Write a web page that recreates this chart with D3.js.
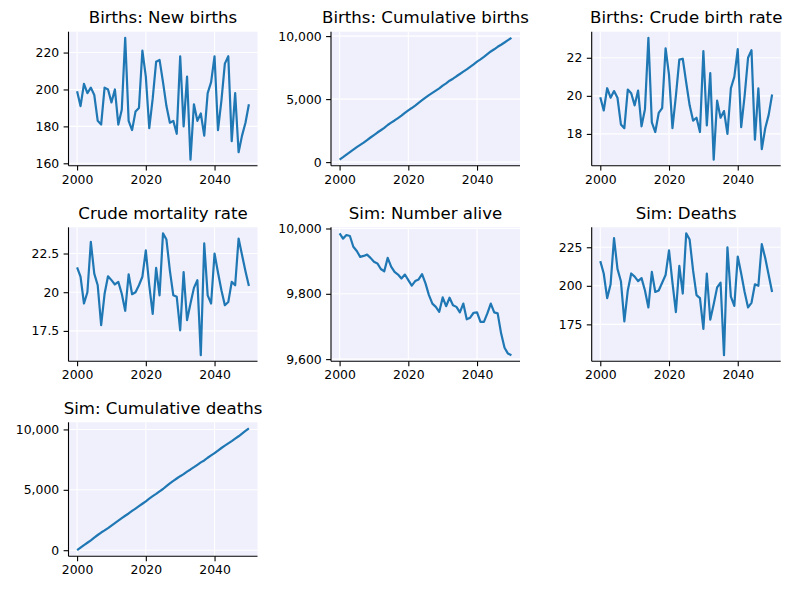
<!DOCTYPE html>
<html><head><meta charset="utf-8">
<script src="https://cdn.jsdelivr.net/npm/d3@7"></script>
<style>body{margin:0;background:#fff;} svg{display:block;}</style>
</head><body>
<script>
const years = [2000,2001,2002,2003,2004,2005,2006,2007,2008,2009,2010,2011,2012,2013,2014,2015,2016,2017,2018,2019,2020,2021,2022,2023,2024,2025,2026,2027,2028,2029,2030,2031,2032,2033,2034,2035,2036,2037,2038,2039,2040,2041,2042,2043,2044,2045,2046,2047,2048,2049,2050];

const newBirths = [199,191,203,198,201,197,183,181,201,200,193,200,181,189,228,183,178,188,190,221,207,179,195,215,216,204,191,182,183,176,218,180,207,162,192,183,187,175,198,204,218,178,194,214,218,172,198,166,175,182,192];

const cumulativeBirths = [199,390,593,791,992,1189,1372,1553,1754,1954,2147,2347,2528,2717,2945,3128,3306,3494,3684,3905,4112,4291,4486,4701,4917,5121,5312,5494,5677,5853,6071,6251,6458,6620,6812,6995,7182,7357,7555,7759,7977,8155,8349,8563,8781,8953,9151,9317,9492,9674,9866];

const crudeBirthRate = [19.93,19.23,20.4,19.9,20.25,19.9,18.5,18.3,20.33,20.14,19.5,20.28,18.4,19.3,23.05,18.6,18.1,19.1,19.35,22.5,21.1,18.3,20.0,21.9,21.95,20.7,19.5,18.7,18.85,18.1,22.35,18.45,21.2,16.65,19.75,18.85,19.2,18.0,20.4,21.0,22.45,18.35,20.0,22.0,22.4,17.7,20.4,17.2,18.3,19.0,20.07];

const crudeMortalityRate = [21.6,21.0,19.27,20.0,23.25,21.2,20.45,17.87,19.9,21.03,20.78,20.5,20.67,19.9,18.8,21.16,19.87,20.0,20.45,21.0,22.7,20.45,18.6,21.57,19.8,23.8,23.4,21.4,19.8,19.7,17.54,21.3,18.2,19.27,20.28,20.78,15.93,23.15,19.8,19.27,22.5,21.27,20.13,19.16,19.37,20.67,20.45,23.47,22.4,21.36,20.4];

const numberAlive = [9985,9969,9980,9977,9944,9931,9913,9916,9920,9910,9898,9893,9876,9869,9910,9883,9867,9859,9847,9859,9842,9825,9839,9844,9860,9832,9796,9770,9760,9745,9789,9762,9788,9765,9760,9743,9770,9722,9727,9742,9743,9714,9714,9740,9770,9743,9740,9679,9635,9617,9612];

const deaths = [216,208,192,201,231,211,203,177,197,208,206,203,205,197,186,209,196,197,202,207,223,202,183,213,195,234,230,210,194,192,172,208,178,188,199,202,155,225,193,187,219,208,196,186,189,201,200,227,218,207,196];

const cumulativeDeaths = [0,216,424,616,817,1048,1259,1462,1639,1836,2044,2250,2453,2658,2855,3041,3250,3446,3643,3845,4052,4275,4477,4660,4873,5068,5302,5532,5742,5936,6128,6300,6508,6686,6874,7073,7275,7430,7655,7848,8035,8254,8462,8658,8844,9033,9234,9434,9661,9879,10086];

const titles = ["Births: New births","Births: Cumulative births","Births: Crude birth rate","Crude mortality rate","Sim: Number alive","Sim: Deaths","Sim: Cumulative deaths"];
const seriesList = [newBirths, cumulativeBirths, crudeBirthRate, crudeMortalityRate, numberAlive, deaths, cumulativeDeaths];
const xTicks = [2000, 2020, 2040];
const yTicks = [
  [160,180,200,220],
  [0,5000,10000],
  [18,20,22],
  [17.5,20,22.5],
  [9600,9800,10000],
  [175,200,225],
  [0,5000,10000]
];

// layout
const W = 791, H = 590;
const colLeft = [68.5, 331, 591.7];
const rowTop = [31.7, 227.3, 422.3];
const aw = 189, ah = 134;
const bg = "#f0f0fc";
const lineColor = "#1f77b4";
const fmt = d3.format(",");

const svg = d3.select("body").append("svg").attr("width", W).attr("height", H)
  .style("font-family", "'DejaVu Sans', sans-serif");

seriesList.forEach((vals, i) => {
  const col = i % 3, row = Math.floor(i / 3);
  const x0 = colLeft[col], y0 = rowTop[row];
  const g = svg.append("g").attr("transform", `translate(${x0},${y0})`);

  const xe = d3.extent(years), xp = (xe[1]-xe[0])*0.05;
  const x = d3.scaleLinear().domain([xe[0]-xp, xe[1]+xp]).range([0, aw]);
  const ye = d3.extent(vals), yp = (ye[1]-ye[0])*0.05;
  const y = d3.scaleLinear().domain([ye[0]-yp, ye[1]+yp]).range([ah, 0]);

  g.append("rect").attr("width", aw).attr("height", ah).attr("fill", bg);

  // grid
  g.selectAll(".gx").data(xTicks).join("line")
    .attr("x1", d => x(d)).attr("x2", d => x(d)).attr("y1", 0).attr("y2", ah)
    .attr("stroke", "#fff").attr("stroke-width", 1.1);
  g.selectAll(".gy").data(yTicks[i]).join("line")
    .attr("y1", d => y(d)).attr("y2", d => y(d)).attr("x1", 0).attr("x2", aw)
    .attr("stroke", "#fff").attr("stroke-width", 1.1);

  // line
  const line = d3.line().x((d, k) => x(years[k])).y(d => y(d));
  g.append("path").datum(vals).attr("d", line)
    .attr("fill", "none").attr("stroke", lineColor).attr("stroke-width", 2.2)
    .attr("stroke-linejoin", "round").attr("stroke-linecap", "butt");

  // axes
  const xAxis = d3.axisBottom(x).tickValues(xTicks).tickFormat(d3.format("d"))
    .tickSizeInner(4.9).tickSizeOuter(0).tickPadding(4.2);
  const gx = g.append("g").attr("transform", `translate(0,${ah})`).call(xAxis);
  const yAxis = d3.axisLeft(y).tickValues(yTicks[i]).tickFormat(fmt)
    .tickSizeInner(4.9).tickSizeOuter(0).tickPadding(4.4);
  const gy = g.append("g").call(yAxis);
  [gx, gy].forEach(a => {
    a.select(".domain").attr("stroke", "#000").attr("stroke-width", 1.1);
    a.selectAll(".tick line").attr("stroke", "#000").attr("stroke-width", 1.1);
    a.selectAll(".tick text").attr("fill", "#000").style("font-size", "12.4px")
      .style("font-family", "'DejaVu Sans', sans-serif");
  });
  gx.select(".domain").attr("d", `M0,0H${aw}`);
  gy.select(".domain").attr("d", `M0,0V${ah}`);

  g.append("text").attr("x", aw/2).attr("y", -8.4).attr("text-anchor", "middle")
    .style("font-size", "16.6px").attr("fill", "#000").text(titles[i]);
});
</script>
</body></html>
